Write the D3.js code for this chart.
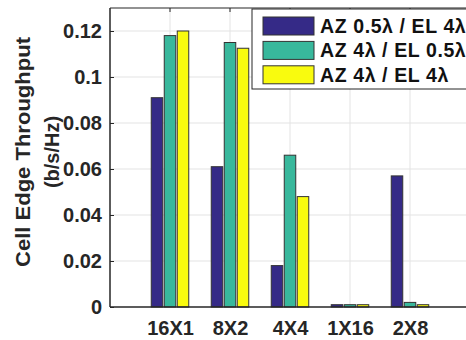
<!DOCTYPE html>
<html lang="en">
<head>
<meta charset="UTF-8">
<title>Cell Edge Throughput</title>
<script src="https://d3js.org/d3.v7.min.js"></script>
<style>
    body { margin: 0; background: #fff; }
    svg { display: block; font-family: Arial, "Liberation Sans", sans-serif; }
    .tick text { font-weight: bold; fill: #262626; }
</style>
</head>
<body>
<svg width="466" height="340"></svg>
<script>
    const categories = ["16X1", "8X2", "4X4", "1X16", "2X8"];
    const seriesNames = ["AZ 0.5\u03bb / EL 4\u03bb", "AZ 4\u03bb / EL 0.5\u03bb", "AZ 4\u03bb / EL 4\u03bb"];
    const azHalfEl4 = [0.091, 0.061, 0.018, 0.001, 0.057];
    const az4ElHalf = [0.118, 0.115, 0.066, 0.001, 0.002];
    const az4El4 = [0.120, 0.1125, 0.048, 0.001, 0.001];
    const yTicks = [0, 0.02, 0.04, 0.06, 0.08, 0.1, 0.12];
    const colors = ["#352a87", "#38b89c", "#f9fb0e"];

    const series = [azHalfEl4, az4ElHalf, az4El4];
    const svg = d3.select("svg");
    const pLeft = 110, pRight = 470, pTop = 8, pBottom = 307;

    // x positions: categories at 1..5, axis runs 0..6
    const x = d3.scaleLinear().domain([0, 6]).range([pLeft, pRight]);
    const y = d3.scaleLinear().domain([0, 0.13]).range([pBottom, pTop]);

    // grid
    const grid = svg.append("g").attr("stroke", "#e3e3e3").attr("stroke-width", 1);
    grid.selectAll(".gy").data(yTicks.slice(1)).enter().append("line")
        .attr("x1", pLeft).attr("x2", pRight)
        .attr("y1", d => y(d)).attr("y2", d => y(d));
    grid.selectAll(".gx").data(categories).enter().append("line")
        .attr("x1", (d, i) => x(i + 1)).attr("x2", (d, i) => x(i + 1))
        .attr("y1", pTop).attr("y2", pBottom);

    // bars
    const barW = 11.5, step = 13;
    series.forEach((vals, s) => {
        svg.append("g").selectAll("rect").data(vals).enter().append("rect")
            .attr("x", (d, i) => x(i + 1) + (s - 1) * step - barW / 2)
            .attr("width", barW)
            .attr("y", d => y(d))
            .attr("height", d => pBottom - y(d))
            .attr("fill", colors[s])
            .attr("stroke", "#333")
            .attr("stroke-width", 1);
    });

    // axes
    const yAxis = d3.axisLeft(y).tickValues(yTicks).tickSize(-4).tickPadding(8)
        .tickFormat(d => d === 0 ? "0" : String(+d.toFixed(2)));
    const gy = svg.append("g").attr("transform", `translate(${pLeft},0)`).call(yAxis);
    gy.selectAll("text").style("font-size", "20px");
    gy.select(".domain").remove();
    gy.selectAll("line").attr("stroke", "#262626");

    const xAxis = d3.axisBottom(x).tickValues([1, 2, 3, 4, 5]).tickSize(0).tickPadding(14)
        .tickFormat(d => categories[d - 1]);
    const gx = svg.append("g").attr("transform", `translate(0,${pBottom})`).call(xAxis);
    gx.selectAll("text").style("font-size", "20px");
    gx.select(".domain").remove();

    // top ticks
    svg.append("g").selectAll("line").data([1, 2, 3, 4, 5]).enter().append("line")
        .attr("x1", d => x(d)).attr("x2", d => x(d))
        .attr("y1", pTop).attr("y2", pTop + 4)
        .attr("stroke", "#262626");

    // frame
    svg.append("line").attr("x1", pLeft).attr("x2", pRight).attr("y1", pTop).attr("y2", pTop)
        .attr("stroke", "#262626").attr("stroke-width", 1.2);
    svg.append("line").attr("x1", pLeft).attr("x2", pRight).attr("y1", pBottom).attr("y2", pBottom)
        .attr("stroke", "#262626").attr("stroke-width", 1.5);
    svg.append("line").attr("x1", pLeft).attr("x2", pLeft).attr("y1", pTop).attr("y2", pBottom)
        .attr("stroke", "#262626").attr("stroke-width", 1.5);

    // y label
    const yl = svg.append("text")
        .attr("transform", "translate(30,152) rotate(-90)")
        .attr("text-anchor", "middle")
        .attr("font-weight", "bold").attr("font-size", "20px").attr("fill", "#262626");
    yl.append("tspan").attr("x", 0).attr("dy", 0)
        .attr("textLength", 230).attr("lengthAdjust", "spacingAndGlyphs")
        .text("Cell Edge Throughput");
    yl.append("tspan").attr("x", 0).attr("dy", 29).text("(b/s/Hz)");

    // legend
    const lg = svg.append("g").attr("transform", "translate(252,9)");
    lg.append("rect").attr("width", 230).attr("height", 80)
        .attr("fill", "#fff").attr("stroke", "#262626").attr("stroke-width", 1);
    seriesNames.forEach((name, i) => {
        const row = lg.append("g").attr("transform", `translate(0,${17 + i * 24.4})`);
        row.append("rect").attr("x", 11).attr("y", -9).attr("width", 51).attr("height", 18)
            .attr("fill", colors[i]).attr("stroke", "#333");
        row.append("text").attr("x", 68).attr("y", 7)
            .attr("font-weight", "bold").attr("font-size", "19.5px").attr("fill", "#111")
            .attr("letter-spacing", "0.6px")
            .text(name);
    });
</script>
</body>
</html>
